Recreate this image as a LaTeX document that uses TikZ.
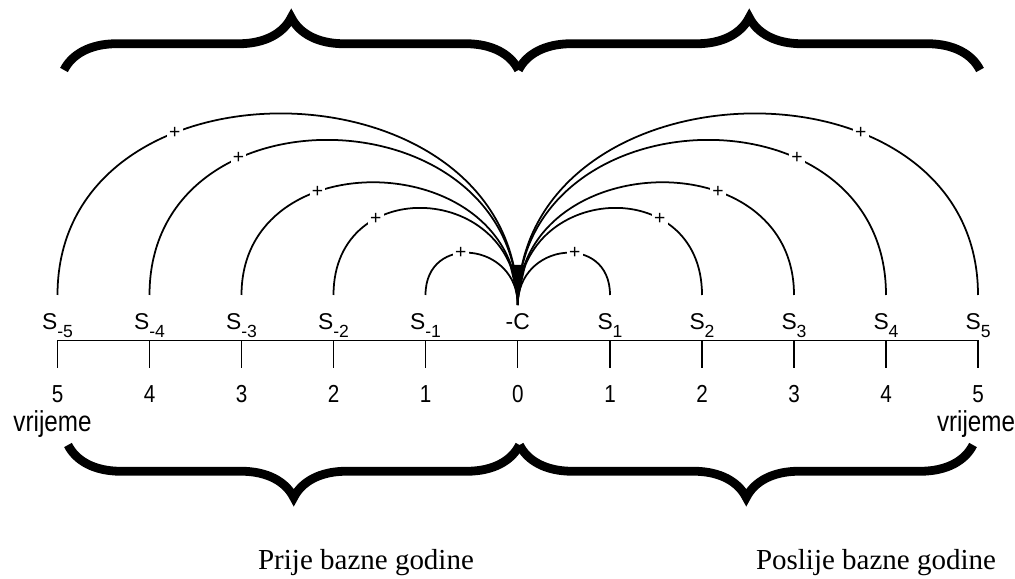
\documentclass[tikz,border=0pt]{standalone}
\usepackage{fontspec}
\setmainfont{Liberation Serif}
\setsansfont{Liberation Sans}
\newfontfamily\narrowsans[FakeStretch=0.84]{Liberation Sans}
\usetikzlibrary{decorations.pathreplacing,positioning}
\newcommand{\lowidx}[1]{\raisebox{-4pt}{\fontsize{10}{10}\selectfont #1}}

\begin{document}
\begin{tikzpicture}[
  slabel/.style={font=\sffamily\fontsize{13}{14}\selectfont, anchor=base, inner sep=0pt},
  num/.style={font=\narrowsans\fontsize{14}{15}\selectfont, anchor=base, inner sep=0pt},
  timelabel/.style={font=\narrowsans\fontsize{16.4}{17}\selectfont, anchor=base, inner sep=0pt},
  curve/.style={line width=1pt, out=90, in=90},
  plusmark/.style={fill=white, inner sep=1.3pt, font=\sffamily\fontsize{11}{11}\selectfont},
  axisline/.style={line width=0.6pt},
  brc/.style={decorate, decoration={brace, amplitude=1.05cm}, line width=5pt},
  yearlabel/.style={font=\fontsize{16.5}{18}\selectfont, inner sep=0pt}
]
  \useasboundingbox (0,0) rectangle (20.3,11.58);

  % time axis
  \coordinate (x-left) at (1.15,4.77);
  \coordinate (x-right) at (19.56,4.77);
  \draw[axisline] (x-left) -- (x-right);
  \foreach \x in {1.15,2.99,4.83,6.67,8.51,10.355,12.20,14.04,15.88,17.72,19.56}
    \draw[axisline] (\x,4.77) -- ++(0,-0.55);

  % years
  \node[num] (n-m5) at (1.15,3.52) {5};
  \node[num] (n-m4) at (2.99,3.52) {4};
  \node[num] (n-m3) at (4.83,3.52) {3};
  \node[num] (n-m2) at (6.67,3.52) {2};
  \node[num] (n-m1) at (8.51,3.52) {1};
  \node[num] (n-0) at (10.355,3.52) {0};
  \node[num] (n-p1) at (12.20,3.52) {1};
  \node[num] (n-p2) at (14.04,3.52) {2};
  \node[num] (n-p3) at (15.88,3.52) {3};
  \node[num] (n-p4) at (17.72,3.52) {4};
  \node[num] (n-p5) at (19.56,3.52) {5};
  \node[timelabel] (time-l) at (1.05,2.94) {vrijeme};
  \node[timelabel] (time-r) at (19.52,2.94) {vrijeme};

  % savings and cost
  \node[slabel] (s-m5) at (1.15,4.98) {S\lowidx{-5}};
  \node[slabel] (s-m4) at (2.99,4.98) {S\lowidx{-4}};
  \node[slabel] (s-m3) at (4.83,4.98) {S\lowidx{-3}};
  \node[slabel] (s-m2) at (6.67,4.98) {S\lowidx{-2}};
  \node[slabel] (s-m1) at (8.51,4.98) {S\lowidx{-1}};
  \node[slabel] (cost) at (10.355,4.98) {-C};
  \node[slabel] (s-p1) at (12.20,4.98) {S\lowidx{1}};
  \node[slabel] (s-p2) at (14.04,4.98) {S\lowidx{2}};
  \node[slabel] (s-p3) at (15.88,4.98) {S\lowidx{3}};
  \node[slabel] (s-p4) at (17.72,4.98) {S\lowidx{4}};
  \node[slabel] (s-p5) at (19.56,4.98) {S\lowidx{5}};

  \coordinate (a-m5) at (1.15,5.68);
  \coordinate (a-m4) at (2.99,5.68);
  \coordinate (a-m3) at (4.83,5.68);
  \coordinate (a-m2) at (6.67,5.68);
  \coordinate (a-m1) at (8.51,5.68);
  \coordinate (c) at (10.355,5.48);
  \coordinate (a-p1) at (12.20,5.68);
  \coordinate (a-p2) at (14.04,5.68);
  \coordinate (a-p3) at (15.88,5.68);
  \coordinate (a-p4) at (17.72,5.68);
  \coordinate (a-p5) at (19.56,5.68);

  \draw[curve, looseness=1.38] (a-m5) to node[plusmark, pos=0.33] {+} (c);
  \draw[curve, looseness=1.48] (a-m4) to node[plusmark, pos=0.32] {+} (c);
  \draw[curve, looseness=1.45] (a-m3) to node[plusmark, pos=0.345] {+} (c);
  \draw[curve, looseness=1.70] (a-m2) to node[plusmark, pos=0.31] {+} (c);
  \draw[curve, looseness=1.73] (a-m1) to node[plusmark, pos=0.42] {+} (c);
  \draw[curve, looseness=1.38] (a-p5) to node[plusmark, pos=0.33] {+} (c);
  \draw[curve, looseness=1.48] (a-p4) to node[plusmark, pos=0.32] {+} (c);
  \draw[curve, looseness=1.45] (a-p3) to node[plusmark, pos=0.345] {+} (c);
  \draw[curve, looseness=1.70] (a-p2) to node[plusmark, pos=0.31] {+} (c);
  \draw[curve, looseness=1.73] (a-p1) to node[plusmark, pos=0.42] {+} (c);
  \fill (c) .. controls (10.29,5.85) .. (10.19,6.28) -- (10.52,6.28) .. controls (10.42,5.85) .. (c);

  % braces
  \coordinate (tb-0) at (1.28,10.18);
  \coordinate (tb-1) at (10.37,10.18);
  \coordinate (tb-2) at (19.60,10.18);
  \draw[brc] (tb-0) -- (tb-1);
  \draw[brc] (tb-1) -- (tb-2);
  \coordinate (bb-0) at (1.36,2.68);
  \coordinate (bb-1) at (10.39,2.68);
  \coordinate (bb-2) at (19.46,2.68);
  \draw[brc, decoration={mirror}] (bb-0) -- (bb-1);
  \draw[brc, decoration={mirror}] (bb-1) -- (bb-2);

  \node[yearlabel] (before) at (7.32,0.32) {Prije bazne godine};
  \node[yearlabel] (after) at (17.52,0.32) {Poslije bazne godine};
\end{tikzpicture}
\end{document}
